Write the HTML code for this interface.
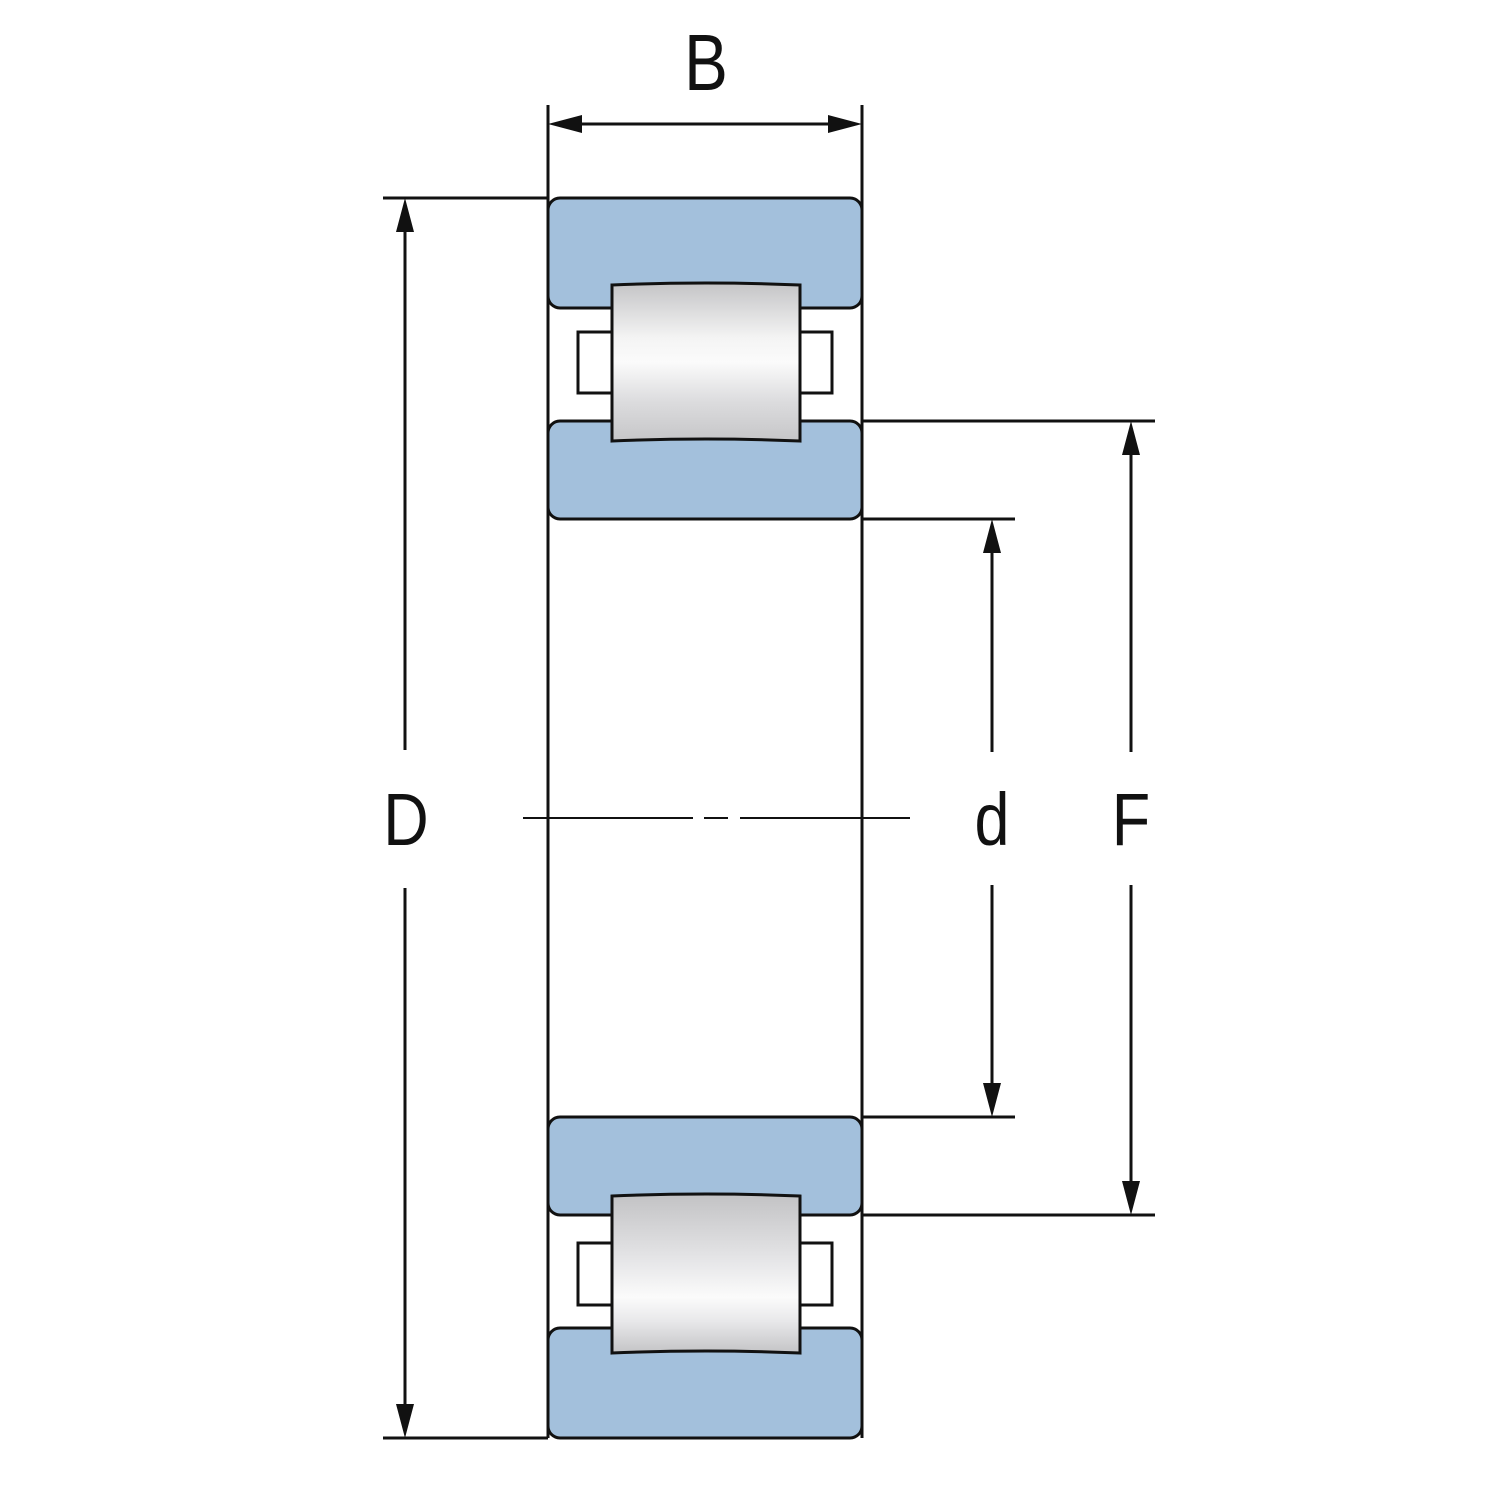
<!DOCTYPE html>
<html><head><meta charset="utf-8"><style>
html,body{margin:0;padding:0;background:#fff;}
svg{display:block;}
text{font-family:"Liberation Sans",sans-serif;fill:#111;}
</style></head><body>
<svg width="1500" height="1500" viewBox="0 0 1500 1500" xmlns="http://www.w3.org/2000/svg">
<defs>
<linearGradient id="rt" x1="0" y1="0" x2="0" y2="1">
<stop offset="0" stop-color="#c4c4c6"/><stop offset="0.35" stop-color="#f4f4f4"/><stop offset="0.5" stop-color="#fbfbfb"/><stop offset="0.75" stop-color="#dcdcde"/><stop offset="1" stop-color="#c6c6c8"/>
</linearGradient>
<linearGradient id="rb" x1="0" y1="1" x2="0" y2="0">
<stop offset="0" stop-color="#c4c4c6"/><stop offset="0.2" stop-color="#e8e8ea"/><stop offset="0.35" stop-color="#fbfbfb"/><stop offset="0.6" stop-color="#e4e4e6"/><stop offset="1" stop-color="#c2c2c4"/>
</linearGradient>
</defs>
<g stroke="#111" stroke-width="3" fill="none">
<line x1="548" y1="105" x2="548" y2="1438"/>
<line x1="862" y1="105" x2="862" y2="1438"/>
<line x1="383" y1="198" x2="548" y2="198"/>
<line x1="383" y1="1438" x2="548" y2="1438"/>
<line x1="862" y1="421" x2="1155" y2="421"/>
<line x1="862" y1="519" x2="1015" y2="519"/>
<line x1="862" y1="1117" x2="1015" y2="1117"/>
<line x1="862" y1="1215" x2="1155" y2="1215"/>
<line x1="560" y1="124" x2="850" y2="124"/>
<line x1="405" y1="210" x2="405" y2="750"/>
<line x1="405" y1="888" x2="405" y2="1426"/>
<line x1="992" y1="531" x2="992" y2="752"/>
<line x1="992" y1="885" x2="992" y2="1105"/>
<line x1="1131" y1="433" x2="1131" y2="752"/>
<line x1="1131" y1="885" x2="1131" y2="1203"/>
</g>
<g stroke="#111" stroke-width="2">
<line x1="523" y1="818" x2="693" y2="818"/>
<line x1="704" y1="818" x2="728" y2="818"/>
<line x1="740" y1="818" x2="910" y2="818"/>
</g>
<g fill="#111">
<polygon points="548,124 582,115 582,133"/>
<polygon points="862,124 828,115 828,133"/>
<polygon points="405,198 396,232 414,232"/>
<polygon points="405,1438 396,1404 414,1404"/>
<polygon points="992,519 983,553 1001,553"/>
<polygon points="992,1117 983,1083 1001,1083"/>
<polygon points="1131,421 1122,455 1140,455"/>
<polygon points="1131,1215 1122,1181 1140,1181"/>
</g>
<g fill="#a3c0dc" stroke="#111" stroke-width="3">
<rect x="548" y="198" width="314" height="110" rx="12"/>
<rect x="548" y="421" width="314" height="98" rx="12"/>
<rect x="548" y="1117" width="314" height="98" rx="12"/>
<rect x="548" y="1328" width="314" height="110" rx="12"/>
</g>
<g fill="#fff" stroke="#111" stroke-width="3">
<rect x="578" y="332" width="34" height="61"/>
<rect x="800" y="332" width="32" height="61"/>
<rect x="578" y="1243" width="34" height="62"/>
<rect x="800" y="1243" width="32" height="62"/>
</g>
<path d="M612,285 Q706,281 800,285 L800,441 Q706,437 612,441 Z" fill="url(#rt)" stroke="#111" stroke-width="3"/>
<path d="M612,1196 Q706,1192 800,1196 L800,1353 Q706,1349 612,1353 Z" fill="url(#rb)" stroke="#111" stroke-width="3"/>
<text transform="translate(706,90) scale(0.82,1)" font-size="80" text-anchor="middle">B</text>
<text transform="translate(406,845) scale(0.85,1)" font-size="74" text-anchor="middle">D</text>
<text transform="translate(992,845) scale(0.85,1)" font-size="74" text-anchor="middle">d</text>
<text transform="translate(1131,845) scale(0.85,1)" font-size="74" text-anchor="middle">F</text>
</svg>
</body></html>
